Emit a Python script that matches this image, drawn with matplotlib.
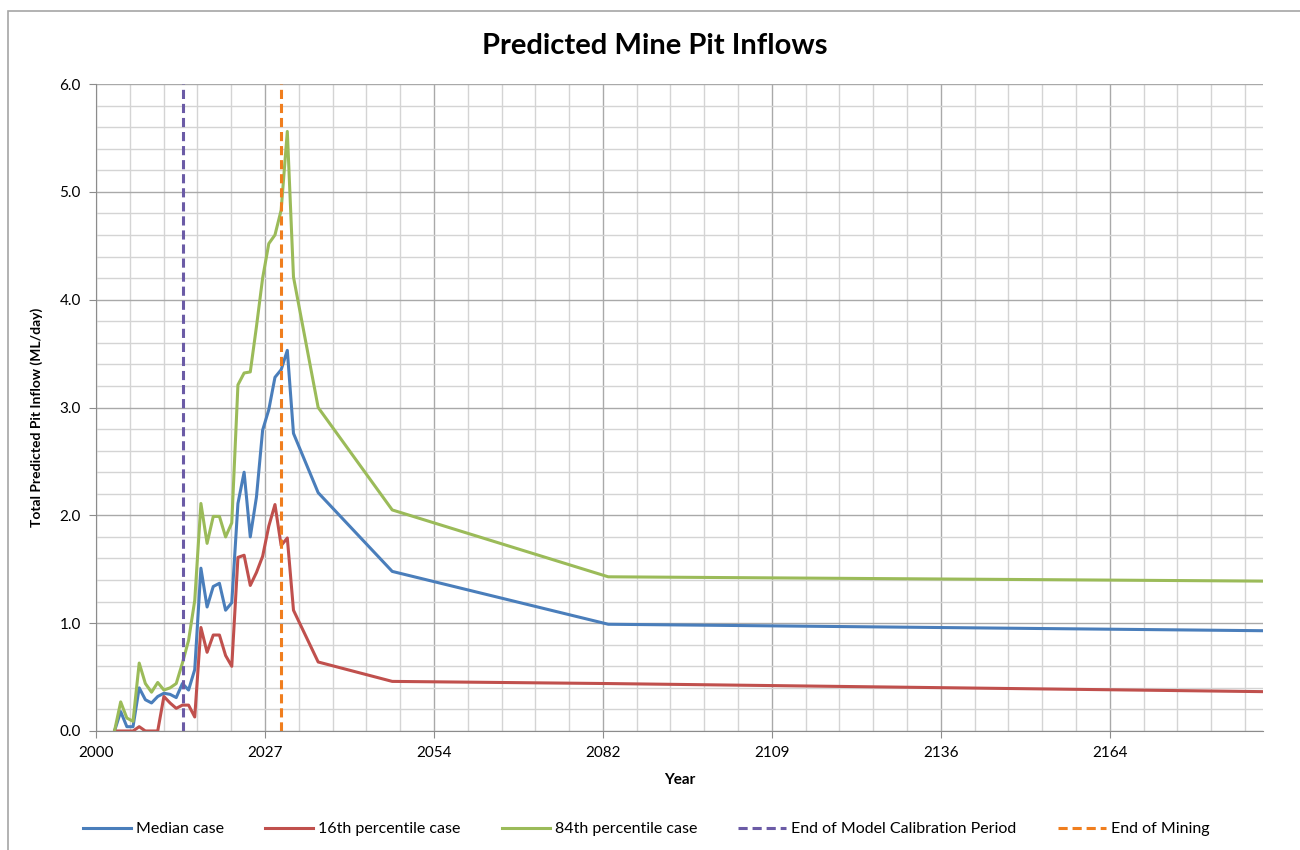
import numpy as np
import matplotlib
matplotlib.use("Agg")
import matplotlib.pyplot as plt
from matplotlib.ticker import FixedLocator, MultipleLocator, FuncFormatter
from matplotlib.patches import Rectangle

plt.rcParams['font.family'] = ['Lato', 'DejaVu Sans']

# model output, decimal years
years = [2003, 2004, 2005, 2006, 2007, 2008, 2009, 2010, 2011, 2012,
         2013, 2014, 2015, 2016, 2017, 2018, 2019, 2020, 2021, 2022,
         2023, 2024, 2025, 2026, 2027, 2028, 2029, 2030, 2031, 2032,
         2036, 2048, 2083, 2189]

median = [0.00, 0.18, 0.04, 0.04, 0.40, 0.29, 0.26, 0.32, 0.35, 0.34,
          0.31, 0.44, 0.38, 0.57, 1.51, 1.15, 1.34, 1.37, 1.12, 1.19,
          2.11, 2.40, 1.80, 2.17, 2.79, 2.98, 3.28, 3.35, 3.53, 2.76,
          2.21, 1.48, 0.99, 0.93]

p16 = [0.00, 0.00, 0.00, 0.00, 0.04, 0.00, 0.00, 0.00, 0.32, 0.26,
       0.21, 0.24, 0.24, 0.13, 0.96, 0.73, 0.89, 0.89, 0.70, 0.60,
       1.61, 1.63, 1.35, 1.47, 1.62, 1.90, 2.10, 1.72, 1.79, 1.12,
       0.64, 0.46, 0.44, 0.365]

p84 = [0.00, 0.27, 0.12, 0.09, 0.63, 0.44, 0.36, 0.45, 0.38, 0.40,
       0.44, 0.63, 0.84, 1.21, 2.11, 1.74, 1.99, 1.99, 1.80, 1.93,
       3.21, 3.32, 3.33, 3.75, 4.20, 4.52, 4.60, 4.83, 5.56, 4.21,
       3.00, 2.05, 1.43, 1.39]

end_calibration = 2014.1
end_mining = 2030.0

# date axis: major every 10000 days, minor every 2000 days
day = 1 / 365.25
major_x = [2000 + k * 10000 * day for k in range(7)]
minor_x = [2000 + k * 2000 * day for k in range(35)]

fig = plt.figure(figsize=(13, 8.5), dpi=100)
fig.patches.append(Rectangle((8 / 1300, -0.01), 1.0, 1 - 11 / 850 + 0.01,
                             transform=fig.transFigure, fill=False,
                             edgecolor='#a6a6a6', linewidth=1.2))
ax = fig.add_axes([96 / 1300, 1 - 731 / 850, (1263 - 96) / 1300, (731 - 84) / 850])

ax.plot(years, median, color='#4a7ebb', lw=2.2, label='Median case')
ax.plot(years, p16, color='#c0504d', lw=2.2, label='16th percentile case')
ax.plot(years, p84, color='#9bbb59', lw=2.2, label='84th percentile case')
ax.axvline(end_calibration, color='#6b5ba6', lw=2.2, dashes=(3, 1.6),
           label='End of Model Calibration Period')
ax.axvline(end_mining, color='#f07e1e', lw=2.2, dashes=(3, 1.6),
           label='End of Mining')

ax.set_xlim(2000, 2189.1)
ax.set_ylim(0, 6)
ax.xaxis.set_major_locator(FixedLocator(major_x))
ax.xaxis.set_minor_locator(FixedLocator(minor_x))
ax.xaxis.set_major_formatter(FuncFormatter(lambda v, p: f"{int(v)}"))
ax.yaxis.set_major_locator(MultipleLocator(1.0))
ax.yaxis.set_minor_locator(MultipleLocator(0.2))
ax.yaxis.set_major_formatter(FuncFormatter(lambda v, p: f"{v:.1f}"))

ax.grid(which='major', color='#a9a9a9', lw=1.0)
ax.grid(which='minor', color='#d4d4d4', lw=1.0)
ax.set_axisbelow(True)
for s in ['top', 'right']:
    ax.spines[s].set_visible(False)
for s in ['left', 'bottom']:
    ax.spines[s].set_color('#8c8c8c')
ax.tick_params(which='major', length=5, color='#8c8c8c', labelsize=11, pad=6)
ax.tick_params(which='minor', length=0)

fig.text(655 / 1300, 1 - 46 / 850, 'Predicted Mine Pit Inflows', fontsize=21,
         fontweight='bold', ha='center', va='center')
ax.set_xlabel('Year', fontsize=11, fontweight='bold', labelpad=9)
ax.set_ylabel('Total Predicted Pit Inflow (ML/day)', fontsize=10, fontweight='bold', labelpad=12)
ax.yaxis.set_label_coords(-0.045, 0.485)

fig.legend(loc='center', bbox_to_anchor=(0.497, 1 - 829 / 850), ncol=5,
           frameon=False, fontsize=11.5, handlelength=3.0, columnspacing=2.6,
           handletextpad=0.3)

fig.savefig('out.png', dpi=100)
